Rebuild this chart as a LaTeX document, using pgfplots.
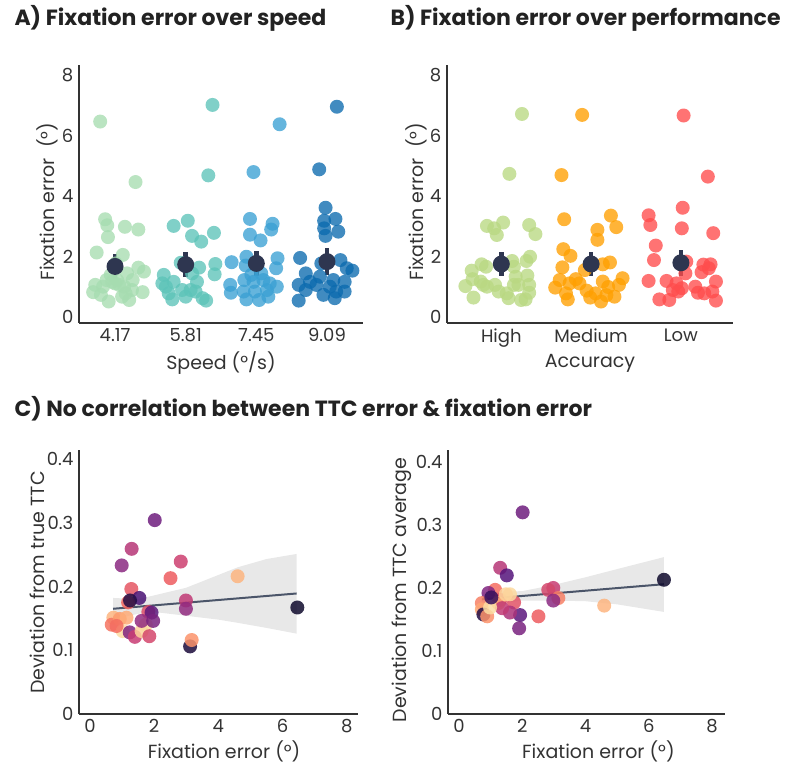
\documentclass[border=0pt]{standalone}
\usepackage{fontspec}
\setmainfont{Poppins}
\usepackage{pgfplots}
\pgfplotsset{compat=1.18}

\definecolor{ink}{HTML}{333333}
\definecolor{titleink}{HTML}{222222}
\definecolor{meancol}{HTML}{2E3650}
\definecolor{spA}{HTML}{A6DCB0}
\definecolor{spB}{HTML}{5CC3B8}
\definecolor{spC}{HTML}{3AA0D3}
\definecolor{spD}{HTML}{0B6AAE}
\definecolor{accH}{HTML}{B9D882}
\definecolor{accM}{HTML}{FF9F00}
\definecolor{accL}{HTML}{FF4C4C}
\definecolor{fitline}{HTML}{4B5569}
\definecolor{band}{HTML}{E8E8E8}

\pgfplotsset{
  colormap={magmaish}{rgb255=(15,10,45) rgb255=(80,18,123) rgb255=(140,41,129)
    rgb255=(200,60,115) rgb255=(241,96,93) rgb255=(254,160,110) rgb255=(252,235,175)},
  panel/.style={
    scale only axis, anchor=south west, clip=false,
    axis lines=left, axis line style={-, line width=2pt, ink},
    tick style={draw=none},
    tick label style={font=\fontsize{18}{21}\selectfont, text=ink},
    label style={font=\fontsize{19}{22}\selectfont, text=ink},
    /pgf/number format/assume math mode=true,
  },
  dots/.style={only marks, mark=*, mark size=7pt, color=#1,
    mark options={draw opacity=0, line width=0pt, fill=#1, fill opacity=0.78}},
  means/.style={only marks, mark=*, mark size=8.5pt, color=meancol,
    mark options={draw opacity=0, fill=meancol},
    error bars/.cd, y dir=both, y explicit, error mark=none,
    error bar style={line width=4.5pt, color=meancol}},
  magdots/.style={scatter, only marks, mark=*, mark size=7pt,
    point meta=explicit, point meta min=0, point meta max=1,
    scatter/use mapped color={draw opacity=0, line width=0pt,
      fill=mapped color, fill opacity=0.85}},
}

\begin{document}
\begin{tikzpicture}
\useasboundingbox (0,0) rectangle (788pt,767pt);

\node[anchor=base west, font=\bfseries\fontsize{22}{26}\selectfont, text=titleink]
  at (11pt,741pt) {A) Fixation error over speed};
\node[anchor=base west, font=\bfseries\fontsize{22}{26}\selectfont, text=titleink]
  at (387pt,741pt) {B) Fixation error over performance};
\node[anchor=base west, font=\bfseries\fontsize{22}{26}\selectfont, text=titleink]
  at (11pt,350pt) {C) No correlation between TTC error \& fixation error};

% A: speed
\begin{axis}[panel, at={(79pt,444pt)}, width=284pt, height=258pt,
  xmin=-0.51, xmax=3.51, ymin=-0.2, ymax=8.33,
  xtick={0,1,2,3}, xticklabels={4.17,5.81,7.45,9.09},
  ytick={0,2,4,6,8},
  xlabel={Speed (°/s)}, ylabel={Fixation error~~(°)},
  xlabel style={at={(axis description cs:0.5,-0.155)}, anchor=center},
  ylabel style={at={(axis description cs:-0.11,0.47)}, anchor=center},
]
\addplot[dots=spA] table {
x y
-0.21 6.46
0.29 4.46
-0.14 3.23
-0.11 3.03
-0.10 2.64
0.14 2.98
0.33 2.89
-0.26 2.13
0.11 2.05
0.01 1.77
0.33 1.63
0.41 1.50
-0.12 1.22
-0.04 1.16
-0.28 1.06
-0.17 1.00
-0.31 0.82
-0.20 0.73
-0.09 0.51
0.06 1.06
0.13 1.00
0.25 1.22
0.24 0.89
0.10 0.67
0.20 0.56
0.39 0.82
0.00 1.11
0.15 0.78
0.03 1.22
-0.06 1.39
0.17 1.44
};
\addplot[dots=spB] table {
x y
1.38 7.01
1.32 4.68
0.83 3.01
1.03 3.18
1.09 2.68
1.22 2.49
1.40 2.78
1.42 1.75
1.41 1.41
0.93 1.79
1.19 1.63
0.69 1.39
0.67 1.11
0.83 1.16
0.76 0.78
0.81 0.58
1.00 0.67
1.07 0.89
1.16 1.16
1.14 0.84
1.24 0.62
1.29 0.54
1.09 1.44
0.95 0.89
0.72 1.00
};
\addplot[dots=spC] table {
x y
2.33 6.37
1.96 4.79
1.91 3.24
2.23 3.08
2.21 2.89
1.91 2.72
2.06 2.53
1.65 1.81
1.86 1.99
1.85 1.70
2.30 1.94
2.28 1.61
1.63 1.06
1.64 0.80
1.83 1.22
1.96 1.16
2.10 1.22
2.29 1.00
1.82 0.84
1.86 0.58
1.98 0.84
2.04 0.56
2.17 0.67
2.15 0.89
2.07 1.44
1.93 1.39
2.19 1.11
};
\addplot[dots=spD] table {
x y
3.14 6.95
2.89 4.88
2.98 3.61
2.96 3.18
3.12 3.24
2.96 2.93
2.98 2.68
3.16 2.82
2.62 1.95
2.92 1.77
3.19 1.88
3.28 1.61
3.36 1.53
2.70 1.44
2.60 1.06
2.70 0.89
2.60 0.54
2.85 1.06
2.90 1.33
2.95 0.73
3.04 1.00
3.11 0.62
3.13 0.84
3.25 0.84
3.25 1.16
2.76 1.16
3.09 1.22
};
\addplot[means] coordinates {
(0,1.67) +- (0,0.40)
(1,1.73) +- (0,0.42)
(2,1.77) +- (0,0.40)
(3,1.83) +- (0,0.44)
};
\end{axis}

% B: performance
\begin{axis}[panel, at={(447pt,444pt)}, width=286pt, height=258pt,
  xmin=-0.605, xmax=2.58, ymin=-0.2, ymax=8.33,
  xtick={0,1,2}, xticklabels={High,Medium,Low},
  ytick={0,2,4,6,8},
  xlabel={Accuracy}, ylabel={Fixation error~~(°)},
  xlabel style={at={(axis description cs:0.5,-0.155)}, anchor=center},
  ylabel style={at={(axis description cs:-0.108,0.47)}, anchor=center},
]
\addplot[dots=accH] table {
x y
0.23 6.71
0.09 4.73
-0.16 3.01
-0.08 2.93
-0.05 2.71
0.02 3.12
0.31 3.04
0.38 2.74
-0.33 1.53
-0.22 1.74
-0.17 1.66
0.12 1.85
0.14 1.66
0.28 1.85
0.32 1.99
-0.40 1.02
-0.32 1.25
-0.23 1.17
-0.20 1.06
-0.16 1.00
-0.31 0.64
-0.07 1.06
-0.03 0.84
0.06 0.78
0.08 0.62
0.14 1.06
0.19 1.06
0.29 1.37
0.31 1.06
0.31 0.80
0.22 0.56
0.27 0.58
0.16 1.33
};
\addplot[dots=accM] table {
x y
0.90 6.68
0.67 4.69
0.70 3.23
0.69 2.24
0.77 2.02
0.68 1.64
1.22 3.35
1.28 2.97
1.07 2.88
1.07 2.55
1.21 1.80
1.13 1.74
0.93 1.55
0.83 1.25
0.76 1.11
0.65 1.22
0.60 0.97
0.72 0.78
0.74 0.58
0.95 0.87
0.99 0.64
1.11 0.51
1.05 0.78
1.13 1.17
1.19 0.99
1.26 0.67
1.31 1.06
1.35 1.28
0.87 1.11
1.17 0.72
};
\addplot[dots=accL] table {
x y
2.03 6.66
2.30 4.64
2.02 3.61
2.01 2.93
2.36 2.77
1.64 3.36
1.66 3.04
1.72 2.36
1.70 1.88
2.06 1.83
1.64 1.19
1.84 1.19
1.76 0.58
1.87 0.56
1.95 1.11
1.97 0.84
2.05 1.44
2.16 1.00
2.19 0.80
2.26 0.78
2.23 1.48
2.25 1.73
2.33 1.74
2.31 1.61
2.39 1.17
2.35 0.84
2.39 0.54
2.01 0.95
1.91 0.89
};
\addplot[means] coordinates {
(0,1.75) +- (0,0.41)
(1,1.75) +- (0,0.41)
(2,1.79) +- (0,0.42)
};
\end{axis}

% C: true TTC
\begin{axis}[panel, at={(79pt,53pt)}, width=279pt, height=264pt,
  xmin=-0.34, xmax=8.35, ymin=0, ymax=0.414,
  xtick={0,2,4,6,8}, ytick={0,0.1,0.2,0.3,0.4},
  xlabel={Fixation error (°)}, ylabel={Deviation from true TTC},
  xlabel style={at={(axis description cs:0.52,-0.143)}, anchor=center},
  ylabel style={at={(axis description cs:-0.15,0.498)}, anchor=center},
]
\addplot[fill=band, draw=none] coordinates {
(0.72,0.182) (1.5,0.180) (2.0,0.186) (3.0,0.198) (4.0,0.218) (4.6,0.230) (5.5,0.243) (6.44,0.251)
(6.44,0.126) (5.5,0.135) (4.6,0.143) (4.0,0.148) (3.0,0.154) (2.0,0.160) (1.5,0.157) (0.72,0.149)
};
\addplot[fitline, line width=2pt] coordinates {(0.72,0.165) (6.44,0.189)};
\addplot[magdots] table[meta=c] {
x y c
2.02 0.304 0.25
1.30 0.259 0.45
0.99 0.233 0.33
2.83 0.239 0.52
2.51 0.213 0.65
4.60 0.216 0.88
6.46 0.167 0.00
1.29 0.196 0.62
1.54 0.182 0.15
1.19 0.175 0.68
1.25 0.178 0.05
2.99 0.178 0.48
2.99 0.165 0.35
1.82 0.160 0.58
1.92 0.159 0.20
3.12 0.106 0.03
3.17 0.116 0.80
0.73 0.151 0.88
0.68 0.140 0.72
0.93 0.149 0.82
1.14 0.151 0.86
1.02 0.130 0.97
1.24 0.128 0.30
1.40 0.121 0.50
1.61 0.130 0.95
1.74 0.140 0.96
1.85 0.122 0.55
1.61 0.146 0.35
1.97 0.146 0.28
0.83 0.138 0.70
};
\end{axis}

% D: TTC average
\begin{axis}[panel, at={(448pt,53pt)}, width=277pt, height=264pt,
  xmin=-0.35, xmax=8.41, ymin=0, ymax=0.419,
  xtick={0,2,4,6,8}, ytick={0,0.1,0.2,0.3,0.4},
  xlabel={Fixation error (°)}, ylabel={Deviation from TTC average},
  xlabel style={at={(axis description cs:0.543,-0.143)}, anchor=center},
  ylabel style={at={(axis description cs:-0.165,0.47)}, anchor=center},
]
\addplot[fill=band, draw=none] coordinates {
(0.72,0.193) (2.0,0.195) (3.0,0.205) (4.0,0.217) (5.0,0.230) (6.48,0.249)
(6.48,0.162) (5.0,0.174) (4.0,0.179) (3.0,0.180) (2.0,0.180) (0.72,0.172)
};
\addplot[fitline, line width=2pt] coordinates {(0.72,0.182) (6.48,0.206)};
\addplot[magdots] table[meta=c] {
x y c
2.01 0.320 0.25
1.30 0.232 0.45
1.51 0.220 0.18
6.48 0.213 0.00
2.98 0.200 0.50
2.82 0.197 0.55
3.14 0.184 0.75
2.98 0.180 0.33
4.59 0.172 0.88
2.51 0.155 0.65
1.93 0.157 0.20
1.90 0.136 0.28
1.74 0.177 0.60
1.61 0.161 0.42
1.14 0.197 0.70
0.93 0.192 0.30
1.30 0.181 0.62
1.24 0.176 0.85
1.36 0.168 0.48
0.72 0.176 0.75
0.72 0.166 0.85
0.77 0.158 0.05
0.89 0.155 0.80
0.98 0.169 0.97
1.02 0.185 0.10
1.61 0.190 0.96
1.48 0.190 0.95
};
\end{axis}
\end{tikzpicture}
\end{document}
